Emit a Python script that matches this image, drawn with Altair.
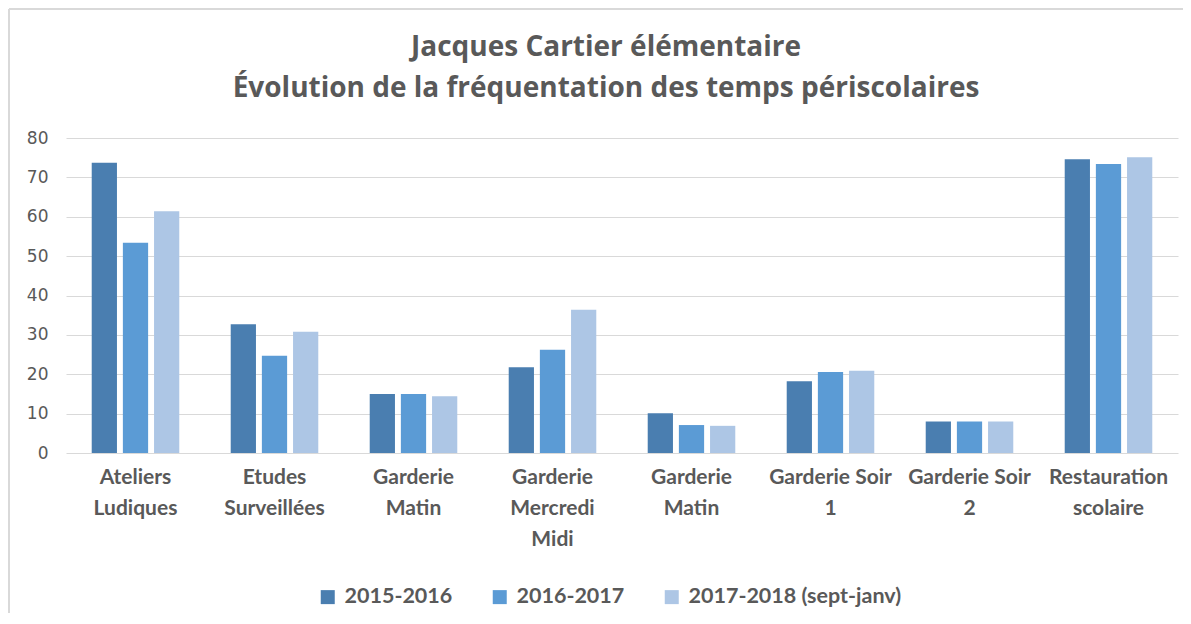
import json
import altair as alt
import pandas as pd

categories = ["Ateliers|Ludiques", "Etudes|Surveillées", "Garderie|Matin",
              "Garderie|Mercredi|Midi", "Garderie|Matin", "Garderie Soir|1",
              "Garderie Soir|2", "Restauration|scolaire"]
series = ["2015-2016", "2016-2017", "2017-2018 (sept-janv)"]
v2015 = [73.7, 32.7, 15.0, 21.8, 10.1, 18.2, 8.0, 74.6]
v2016 = [53.4, 24.7, 15.0, 26.2, 7.1, 20.6, 8.0, 73.4]
v2017 = [61.4, 30.8, 14.4, 36.4, 6.9, 20.9, 8.0, 75.1]
colors = ["#4A7EB0", "#5B9BD5", "#ADC6E5"]

rows = []
for s, vals in zip(series, [v2015, v2016, v2017]):
    for i, v in enumerate(vals):
        rows.append({"idx": i, "serie": s, "value": v})
df = pd.DataFrame(rows)

label_expr = "split(" + json.dumps(categories) + "[datum.value], '|')"
FONT = "Lato"
GREY = "#595959"
W, H = 1112, 315
PAD = {"left": 58, "top": 130, "right": 5, "bottom": 160}

bars = alt.Chart(df).mark_bar().encode(
    x=alt.X("idx:O", title=None,
            scale=alt.Scale(paddingInner=0.37, paddingOuter=0.185),
            axis=alt.Axis(labelExpr=label_expr, labelAngle=0, labelFontSize=21,
                          labelFontWeight="bold", labelColor=GREY, labelFont=FONT,
                          labelLineHeight=31, labelPadding=13, ticks=False,
                          domain=False, labelBaseline="top", labelLimit=0)),
    xOffset=alt.XOffset("serie:N", sort=series,
                        scale=alt.Scale(paddingInner=0.19, paddingOuter=0)),
    y=alt.Y("value:Q", title=None,
            scale=alt.Scale(domain=[0, 80]),
            axis=alt.Axis(values=[0, 10, 20, 30, 40, 50, 60, 70, 80],
                          labelFontSize=17, labelColor=GREY, labelFont="DejaVu Sans",
                          labelPadding=18, ticks=False, domain=False,
                          gridColor="#D9D9D9", gridWidth=1)),
    color=alt.Color("serie:N", sort=series,
                    scale=alt.Scale(domain=series, range=colors),
                    legend=alt.Legend(title=None, orient="none", direction="horizontal",
                                      legendX=251, legendY=448,
                                      labelFontSize=21.5, labelFontWeight="bold",
                                      labelColor=GREY, labelFont=FONT, labelLimit=0,
                                      symbolType="square", symbolSize=196,
                                      symbolStrokeWidth=0, columnPadding=36,
                                      labelOffset=6)),
)

border_data = alt.Data(values=[{"k": 1}])
left_border = alt.Chart(border_data).mark_rule(color="#D9D9D9", strokeWidth=2).encode(
    x=alt.value(-57), y=alt.value(-129), y2=alt.value(H + PAD["bottom"]))
top_border = alt.Chart(border_data).mark_rule(color="#D9D9D9", strokeWidth=2).encode(
    y=alt.value(-129), x=alt.value(-57), x2=alt.value(W + PAD["right"]))

chart = alt.layer(bars, left_border, top_border).properties(
    width=W, height=H,
    autosize=alt.AutoSizeParams(type="none"),
    padding=PAD,
    title=alt.TitleParams(
        text=["Jacques Cartier  élémentaire",
              "Évolution de la fréquentation des temps périscolaires"],
        font="Open Sans", fontSize=28, fontWeight="bold", color=GREY,
        anchor="middle", lineHeight=41, offset=-95, dx=-16),
).configure_view(stroke=None)

chart.save("out.html", embed_options={"renderer": "svg", "actions": False})
